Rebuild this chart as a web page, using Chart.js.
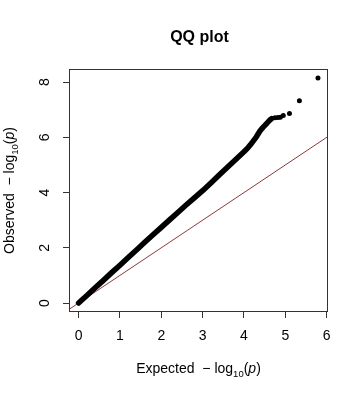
<!DOCTYPE html>
<html>
<head>
<meta charset="utf-8">
<script src="https://cdn.jsdelivr.net/npm/chart.js@4/dist/chart.umd.min.js"></script>
<style>
  html, body { margin: 0; padding: 0; background: #fff; }
  canvas { display: block; }
</style>
</head>
<body>
<canvas id="c" width="364" height="397"></canvas>
<script>
// ---- data ----
const titleText = "QQ plot";
// dense body of the QQ curve (expected vs observed -log10 p)
const expectedMain = [0, 0.2, 0.4, 0.6, 0.8, 1.0, 1.2, 1.4, 1.6, 1.8, 2.0, 2.2, 2.4, 2.6, 2.8, 3.0, 3.2, 3.4, 3.6, 3.8, 4.0, 4.1, 4.15, 4.2, 4.3, 4.39, 4.47, 4.55, 4.62, 4.67];
const observedMain = [0, 0.27, 0.55, 0.82, 1.10, 1.37, 1.65, 1.92, 2.20, 2.47, 2.74, 3.01, 3.28, 3.55, 3.81, 4.07, 4.35, 4.64, 4.92, 5.20, 5.48, 5.63, 5.72, 5.82, 6.02, 6.24, 6.38, 6.50, 6.62, 6.68];
// sparse upper tail, individual points
const expectedTail = [4.75, 4.82, 4.88, 4.95, 5.10, 5.34, 5.79];
const observedTail = [6.71, 6.72, 6.73, 6.79, 6.86, 7.33, 8.15];
// reference line y = x (end values)
const refLine = [-0.5, 6.5];
// axis ticks and limits
const xTicks = [0, 1, 2, 3, 4, 5, 6];
const yTicks = [0, 2, 4, 6, 8];
const xRange = [-0.232, 6.032];
const yRange = [-0.326, 8.476];

const FONT = '"Liberation Sans", Arial, Helvetica, sans-serif';

const xTitleParts = [
  { t: "Expected  \u2212 log", size: 14 },
  { t: "10", size: 9.5, dy: 4 },
  { t: "(", size: 14 },
  { t: "p", size: 14, italic: true },
  { t: ")", size: 14 }
];
const yTitleParts = [
  { t: "Observed  \u2212 log", size: 14 },
  { t: "10", size: 9.5, dy: 4 },
  { t: "(", size: 14 },
  { t: "p", size: 14, italic: true },
  { t: ")", size: 14 }
];

function partFont(p) {
  return (p.italic ? 'italic ' : '') + p.size + 'px ' + FONT;
}
function drawRich(ctx, parts, cx, cy, rot) {
  ctx.save();
  ctx.translate(cx, cy);
  ctx.rotate(rot);
  ctx.textBaseline = 'alphabetic';
  ctx.textAlign = 'left';
  let w = 0;
  parts.forEach(p => { ctx.font = partFont(p); w += ctx.measureText(p.t).width; });
  let x = -w / 2;
  parts.forEach(p => {
    ctx.font = partFont(p);
    ctx.fillText(p.t, x, p.dy || 0);
    x += ctx.measureText(p.t).width;
  });
  ctx.restore();
}

const decor = {
  id: 'decor',
  beforeDraw(chart) {
    const ctx = chart.ctx;
    ctx.save();
    ctx.fillStyle = '#fff';
    ctx.fillRect(0, 0, chart.width, chart.height);
    ctx.restore();
  },
  afterDraw(chart) {
    const ctx = chart.ctx;
    const a = chart.chartArea;
    ctx.save();
    ctx.strokeStyle = '#333';
    ctx.lineWidth = 1;
    ctx.strokeRect(Math.round(a.left) + 0.5, Math.round(a.top) + 0.5,
                   Math.round(a.right - a.left) - 1, Math.round(a.bottom - a.top) - 1);
    ctx.fillStyle = '#000';
    ctx.font = 'bold 16px ' + FONT;
    ctx.textAlign = 'center';
    ctx.textBaseline = 'alphabetic';
    ctx.fillText(titleText, (a.left + a.right) / 2 + 1, 42);
    const ys = chart.scales.y;
    ctx.font = '14px ' + FONT;
    yTicks.forEach(v => {
      const py = ys.getPixelForValue(v);
      ctx.save();
      ctx.translate(49, py);
      ctx.rotate(-Math.PI / 2);
      ctx.textAlign = 'center';
      ctx.textBaseline = 'alphabetic';
      ctx.fillText(String(v), 0, 0);
      ctx.restore();
    });
    drawRich(ctx, xTitleParts, (a.left + a.right) / 2, 373, 0);
    drawRich(ctx, yTitleParts, 14, (a.top + a.bottom) / 2, -Math.PI / 2);
    ctx.restore();
  }
};

const toPts = (xs, ys) => xs.map((x, i) => ({ x: x, y: ys[i] }));

new Chart(document.getElementById('c'), {
  type: 'scatter',
  data: {
    datasets: [
      {
        data: toPts(expectedMain, observedMain),
        showLine: true,
        borderColor: '#000',
        backgroundColor: '#000',
        borderWidth: 5.5,
        borderCapStyle: 'round',
        borderJoinStyle: 'round',
        pointRadius: 0,
        tension: 0
      },
      {
        data: toPts(expectedTail, observedTail),
        showLine: false,
        backgroundColor: '#000',
        borderColor: '#000',
        borderWidth: 0,
        pointRadius: 2.5
      },
      {
        data: toPts(refLine, refLine),
        showLine: true,
        borderColor: '#8B3A3A',
        borderWidth: 1,
        pointRadius: 0,
        clip: 0
      }
    ]
  },
  options: {
    responsive: false,
    devicePixelRatio: 1,
    animation: false,
    layout: { padding: { left: 0, top: 69, right: 36, bottom: 0 } },
    plugins: { legend: { display: false }, tooltip: { enabled: false }, title: { display: false } },
    scales: {
      x: {
        type: 'linear',
        position: 'bottom',
        min: xRange[0],
        max: xRange[1],
        afterBuildTicks: s => { s.ticks = xTicks.map(v => ({ value: v })); },
        afterFit: s => { s.height = 85; },
        border: { display: false },
        grid: { display: true, drawOnChartArea: false, drawTicks: true, tickLength: 6, color: '#333', lineWidth: 1 },
        ticks: { color: '#000', font: { family: FONT, size: 14 }, padding: 10, maxRotation: 0, autoSkip: false }
      },
      y: {
        type: 'linear',
        position: 'left',
        min: yRange[0],
        max: yRange[1],
        afterBuildTicks: s => { s.ticks = yTicks.map(v => ({ value: v })); },
        afterFit: s => { s.width = 69; },
        border: { display: false },
        grid: { display: true, drawOnChartArea: false, drawTicks: true, tickLength: 6, color: '#333', lineWidth: 1 },
        ticks: { display: false }
      }
    }
  },
  plugins: [decor]
});
</script>
</body>
</html>
